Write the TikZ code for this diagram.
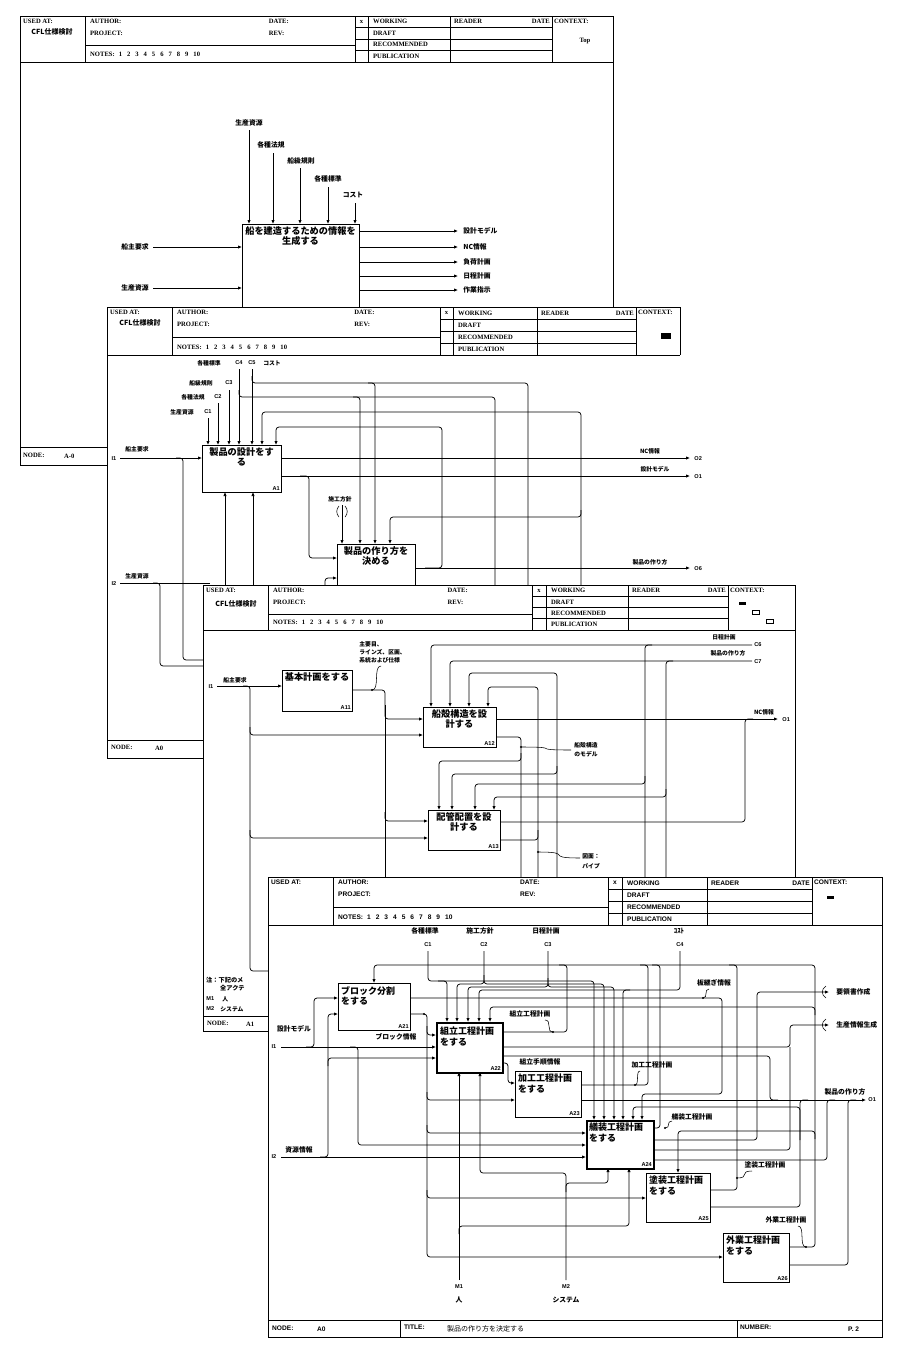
\documentclass[tikz,border=0pt]{standalone}
\usepackage{fontspec}
\setmainfont{Liberation Serif}
\newfontfamily\jp{Noto Sans CJK JP}
\newfontfamily\hsans{Liberation Sans}
\newfontfamily\hserif{Liberation Serif}
\usetikzlibrary{arrows.meta}
\newcommand{\hdrfont}{\hserif\bfseries\fontsize{6.6}{7}\selectfont}
\newcommand{\notestext}{NOTES:\hspace{4pt}1\hspace{5pt}2\hspace{5pt}3\hspace{5pt}4\hspace{5pt}5\hspace{5pt}6\hspace{5pt}7\hspace{5pt}8\hspace{5pt}9\hspace{5pt}10}
\tikzset{
  edge/.style={line width=0.9pt},
  hl/.style={line width=0.55pt},
  ln/.style={line width=0.75pt, rounded corners=3pt},
  ar/.style={ln, -{Latex[length=4pt,width=3.4pt]}},
  fbox/.style={draw, line width=0.9pt, fill=white, inner sep=0pt, anchor=north west},
  tbox/.style={draw, line width=2pt, fill=white, inner sep=0pt, anchor=north west},
  hd/.style={font=\hdrfont, anchor=west, inner sep=0pt},
  lab/.style={font=\jp\bfseries\fontsize{5.8}{6.4}\selectfont, inner sep=0.2pt},
  labw/.style={lab, anchor=west},
  lab7/.style={font=\jp\bfseries\fontsize{6.8}{7.4}\selectfont, inner sep=0.2pt},
  lab7w/.style={lab7, anchor=west},
  cl/.style={font=\hsans\bfseries\fontsize{5.6}{6}\selectfont, inner sep=0.2pt},
  ttl/.style={font=\jp\bfseries\fontsize{9.2}{10.2}\selectfont, inner sep=0pt, align=center, anchor=north},
  ttl4/.style={font=\jp\bfseries\fontsize{9}{10.2}\selectfont, inner sep=0pt, align=left, anchor=north west},
  bid/.style={font=\hsans\bfseries\fontsize{5.6}{6}\selectfont, inner sep=0pt, anchor=south east},
}
\newcommand{\IdefHead}[9]{%
  \draw[hl] (#1,#2) -- (#8,#2);
  \draw[hl] (#1,{#2+#9}) -- (#8,{#2+#9});
  \foreach \xx in {#3,#4,#5,#6,#7,#8} {\draw[hl] (\xx,#2) -- (\xx,{#2+#9});}
  \foreach \k in {1,2,3} {\draw[hl] (#4,{#2+\k*#9/4}) -- (#7,{#2+\k*#9/4});}
  \draw[hl] (#3,{#2+0.64*#9}) -- (#4,{#2+0.64*#9});
  \node[hd] at ({#1+3},{#2+5.5}) {USED AT:};
  \node[hd] at ({#3+5},{#2+5.5}) {AUTHOR:};
  \node[hd] at ({#3+5},{#2+17}) {PROJECT:};
  \node[hd] at ({#3+5},{#2+#9-8}) {\notestext};
  \node[hd] at ({#3+0.68*(#4-#3)},{#2+5.5}) {DATE:};
  \node[hd] at ({#3+0.68*(#4-#3)},{#2+17}) {REV:};
  \node[hd,anchor=center] at ({(#4+#5)/2},{#2+#9/8}) {x};
  \node[hd] at ({#5+5},{#2+#9/8}) {WORKING};
  \node[hd] at ({#5+5},{#2+3*#9/8}) {DRAFT};
  \node[hd] at ({#5+5},{#2+5*#9/8}) {RECOMMENDED};
  \node[hd] at ({#5+5},{#2+7*#9/8}) {PUBLICATION};
  \node[hd] at ({#6+4},{#2+#9/8}) {READER};
  \node[hd,anchor=east] at ({#7-2},{#2+#9/8}) {DATE};
  \node[hd] at ({#7+2},{#2+5.5}) {CONTEXT:};
}
\newcommand{\squig}[4]{\draw[hl] (#1,#2) .. controls ({#1+(#3-#1)*0.9},{#2}) and ({#1+(#3-#1)*0.1},{#4}) .. (#3,#4); \fill (#3,#4) circle[radius=1.1];}
\begin{document}
\begin{tikzpicture}[x=1pt,y=-1pt]
\useasboundingbox (0,0) rectangle (900,1347);
\fill[white] (0,0) rectangle (900,1347);

%================ SHEET 1 =================
\fill[white] (20,16) rectangle (613,465);
\draw[edge] (20,465) -- (20,16) -- (613,16) -- (613,465);
\IdefHead{20}{16}{85}{355}{368}{450}{552}{613}{46}
\node[font=\jp\bfseries\fontsize{7}{7.5}\selectfont] (s1used) at (52,32) {CFL仕様検討};
\node[hd,anchor=center] (s1ctx) at (585,41) {Top};
\draw[hl] (20,447) -- (107,447);
\draw[edge] (20,465) -- (107,465);
\node[hd] (s1node) at (23,455) {NODE:};
\node[hd] (s1nodev) at (64,456) {A-0};

\node[fbox, minimum width=117pt, minimum height=90pt] (s1box) at (242,224) {};
\node[ttl] (s1ttl) at (300.5,226) {船を建造するための情報を\\生成する};
\node[lab7] (s1c1) at (249,123) {生産資源};
\node[lab7] (s1c2) at (271,145) {各種法規};
\node[lab7] (s1c3) at (301,161) {船級規則};
\node[lab7] (s1c4) at (328,179) {各種標準};
\node[lab7] (s1c5) at (353,195) {コスト};
\draw[ar] (249,130) -- (249,224);
\draw[ar] (273,153) -- (273,224);
\draw[ar] (300,168) -- (300,224);
\draw[ar] (328,187) -- (328,224);
\draw[ar] (355,203) -- (355,224);
\node[lab7] (s1i1) at (135,247) {船主要求};
\node[lab7] (s1i2) at (135,288) {生産資源};
\draw[ar] (153,247) -- (242,247);
\draw[ar] (153,288) -- (242,288);
\foreach \yy/\tt in {231/設計モデル,247/NC情報,262/負荷計画,276/日程計画,290/作業指示}{
  \draw[ar] (359,\yy) -- (458,\yy);
  \node[lab7w] at (463,\yy) {\tt};
}

%================ SHEET 2 =================
\fill[white] (107,307) rectangle (705,760);
\draw[edge] (107,307) -- (107,758) -- (203,758);
\IdefHead{107}{307}{172}{440}{453}{537}{636}{680}{48}
\node[font=\jp\bfseries\fontsize{7}{7.5}\selectfont] (s2used) at (140,323) {CFL仕様検討};
\fill (661,333) rectangle (671,339);
\draw[hl] (107,740) -- (203,740);
\node[hd] (s2node) at (111,747) {NODE:};
\node[hd] (s2nodev) at (155,748) {A0};

\node[fbox, minimum width=79pt, minimum height=47pt] (a1) at (202,445) {};
\node[ttl] (a1t) at (241.5,447) {製品の設計をす\\る};
\node[bid] (a1id) at ([xshift=-2pt,yshift=2pt]a1.south east) {A1};
\node[fbox, minimum width=78pt, minimum height=60pt] (a2) at (337,544) {};
\node[ttl] (a2t) at (376,546) {製品の作り方を\\決める};

\node[lab] (s2c4l) at (209,363) {各種標準};
\node[cl] (s2c4) at (239,363) {C4};
\node[cl] (s2c5) at (252,363) {C5};
\node[lab] (s2c5l) at (272,363) {コスト};
\node[lab] (s2c3l) at (201,383) {船級規則};
\node[cl] (s2c3) at (229,383) {C3};
\node[lab] (s2c2l) at (193,397) {各種法規};
\node[cl] (s2c2) at (218,397) {C2};
\node[lab] (s2c1l) at (182,412) {生産資源};
\node[cl] (s2c1) at (208,412) {C1};
\draw[ar] (208,418) -- (208,445);
\draw[ar] (218,403) -- (218,445);
\draw[ar] (229,390) -- (229,445);
\draw[ar] (239,369) -- (239,445);
\draw[ar] (252,369) -- (252,445);
\draw[ln] (252,376) |- (528,383) -- (528,598);
\draw[ar] (368,383) -| (375,544);
\draw[ln] (239,390) |- (495,397) -- (495,598);
\draw[ar] (353,397) -| (360,544);
\draw[ar] (581,598) |- (262,412) -- (262,445);
\draw[ar] (581,510) |- (390,517) -- (390,544);
\draw[ar] (281,458) -- (690,458);
\draw[ar] (281,476) -- (690,476);
\draw[ar] (300,476) -| (309,558) -- (337,558);
\draw[ar] (415,568) -- (690,568);
\draw[ar] (425,568) -| (442,427) -| (276,445);
\node[lab] (s2sk) at (340,499) {施工方針};
\draw[ar] (342,505) -- (342,544);
\draw[hl] (339,506) .. controls (336,509) and (336,514) .. (339,517);
\draw[hl] (345,506) .. controls (348,509) and (348,514) .. (345,517);
\node[lab] (s2o2l) at (650,451) {NC情報};
\node[cl,anchor=west] (s2o2) at (694,459) {O2};
\node[lab] (s2o1l) at (655,469) {設計モデル};
\node[cl,anchor=west] (s2o1) at (694,477) {O1};
\node[lab] (s2o6l) at (650,562) {製品の作り方};
\node[cl,anchor=west] (s2o6) at (694,569) {O6};
\node[cl] (s2i1) at (114,459) {I1};
\node[lab] (s2i1l) at (137,449) {船主要求};
\draw[ar] (120,458) -- (202,458);
\draw[ln] (176,458) -| (183,660) -- (210,660);
\node[cl] (s2i2) at (114,584) {I2};
\node[lab] (s2i2l) at (137,576) {生産資源};
\draw[ln] (120,583) -- (210,583);
\draw[ln] (153,583) -| (160,666) -- (210,666);
\draw[ar] (225,600) -- (225,492);
\draw[ar] (253,600) -- (253,492);
\draw[ar] (325,598) |- (337,578);

%================ SHEET 3 =================
\fill[white] (203,585) rectangle (795,1031);
\draw[edge] (203,585) -- (203,1031) -- (268,1031);
\draw[edge] (795,585) -- (795,877);
\IdefHead{203}{585}{268}{532}{546}{628}{728}{795}{45}
\node[font=\jp\bfseries\fontsize{7}{7.5}\selectfont] (s3used) at (236,604) {CFL仕様検討};
\fill (739,602) rectangle (746,605);
\draw[hl] (752,610) rectangle (759,614);
\draw[hl] (766,619) rectangle (773,623);
\node[font=\jp\bfseries\fontsize{6.2}{6.6}\selectfont, anchor=west, inner sep=0pt] (s3n1) at (206,980) {注：下記のメ};
\node[font=\jp\bfseries\fontsize{6.2}{6.6}\selectfont, anchor=west, inner sep=0pt] (s3n2) at (220,988) {全アクテ};
\node[cl,anchor=west] (s3m1) at (206,999) {M1};
\node[lab,anchor=west] (s3m1l) at (222,999) {人};
\node[cl,anchor=west] (s3m2) at (206,1009) {M2};
\node[lab,anchor=west] (s3m2l) at (220,1009) {システム};
\draw[hl] (203,1016) -- (268,1016);
\node[hd] (s3node) at (207,1023) {NODE:};
\node[hd] (s3nodev) at (246,1024) {A1};

\node[fbox, minimum width=70pt, minimum height=41pt] (a11) at (282,670) {};
\node[ttl] (a11t) at (317,672) {基本計画をする};
\node[bid] (a11id) at ([xshift=-2pt,yshift=2pt]a11.south east) {A11};
\node[fbox, minimum width=73pt, minimum height=40pt] (a12) at (423,707) {};
\node[ttl] (a12t) at (459.5,709) {船殻構造を設\\計する};
\node[bid] (a12id) at ([xshift=-2pt,yshift=2pt]a12.south east) {A12};
\node[fbox, minimum width=72pt, minimum height=40pt] (a13) at (428,810) {};
\node[ttl] (a13t) at (464,812) {配管配置を設\\計する};
\node[bid] (a13id) at ([xshift=-2pt,yshift=2pt]a13.south east) {A13};

\node[cl] (s3i1) at (211,687) {I1};
\node[lab] (s3i1l) at (235,680) {船主要求};
\draw[ar] (217,686) -- (282,686);
\draw[ln] (243,686) -| (250,971) -- (275,971);
\draw[ar] (250,727) |- (423,735);
\draw[ar] (250,830) |- (428,838);
\draw[ar] (352,690) -| (385,719) -- (423,719);
\draw[ln] (385,705) -- (385,880);
\draw[ar] (385,812) |- (428,821);
\node[labw] (s3d1) at (359,644) {主要目、};
\node[labw] (s3d2) at (359,652) {ラインズ、区画、};
\node[labw] (s3d3) at (359,660) {系統および仕様};
\squig{381}{666}{372}{690}
\node[lab] (s3c6l) at (724,637) {日程計画};
\node[cl,anchor=west] (s3c6) at (754,645) {C6};
\node[lab] (s3c7l) at (728,653) {製品の作り方};
\node[cl,anchor=west] (s3c7) at (754,662) {C7};
\draw[ar] (752,645) -| (431,707);
\draw[ln] (652,645) -| (645,880);
\draw[ar] (645,776) |- (475,784) -- (475,810);
\draw[ar] (752,661) -| (450,707);
\draw[ln] (673,661) -| (666,880);
\draw[ar] (666,789) |- (494,797) -- (494,810);
\draw[ar] (557,880) |- (469,673) -- (469,707);
\draw[ar] (557,766) |- (452,774) -- (452,810);
\draw[ar] (538,880) |- (488,687) -- (488,707);
\draw[ln] (500,840) -| (538,830);
\draw[ln] (496,737) -| (521,880);
\draw[ar] (521,753) |- (439,761) -- (439,810);
\draw[ar] (496,719) -- (778,719);
\draw[ln] (500,822) -| (745,719) -- (753,719);
\node[lab] (s3o1l) at (764,712) {NC情報};
\node[cl,anchor=west] (s3o1) at (782,720) {O1};
\node[labw] (s3m1t) at (574,745) {船殻構造};
\node[labw] (s3m2t) at (574,754) {のモデル};
\squig{571}{750}{521}{747}
\node[labw] (s3z1) at (582,856) {図面：};
\node[labw] (s3z2) at (582,866) {パイプ};
\squig{580}{858}{538}{852}

%================ SHEET 4 =================
\renewcommand{\hdrfont}{\hsans\bfseries\fontsize{6.6}{7}\selectfont}
\fill[white] (268,877) rectangle (882,1337);
\draw[edge] (268,877) rectangle (882,1337);
\IdefHead{268}{877}{333}{608}{622}{707}{812}{882}{48}
\fill (827,896) rectangle (834,898.5);
\draw[edge] (268,1320) -- (882,1320);
\draw[hl] (400,1320) -- (400,1337);
\draw[hl] (737,1320) -- (737,1337);
\node[hd] (s4node) at (272,1328) {NODE:};
\node[hd] (s4nodev) at (317,1329) {A0};
\node[hd] (s4title) at (404,1327) {TITLE:};
\node[font=\jp\fontsize{7}{7.5}\selectfont, anchor=west, inner sep=0pt] (s4titlev) at (447,1329) {製品の作り方を決定する};
\node[hd] (s4num) at (740,1327) {NUMBER:};
\node[hd] (s4numv) at (848,1329) {P. 2};

\node[fbox, minimum width=72pt, minimum height=47pt] (a21) at (338,983) {};
\node[tbox, minimum width=66pt, minimum height=50pt] (a22) at (436,1022) {};
\node[fbox, minimum width=66pt, minimum height=46pt] (a23) at (515,1071) {};
\node[tbox, minimum width=67pt, minimum height=48pt] (a24) at (586,1120) {};
\node[fbox, minimum width=64pt, minimum height=49pt] (a25) at (646,1173) {};
\node[fbox, minimum width=66pt, minimum height=49pt] (a26) at (723,1233) {};
\node[ttl4] (a21t) at ([xshift=3pt,yshift=-3pt]a21.north west) {ブロック分割\\をする};
\node[ttl4] (a22t) at ([xshift=4pt,yshift=-5pt]a22.north west) {組立工程計画\\をする};
\node[ttl4] (a23t) at ([xshift=3pt,yshift=-3pt]a23.north west) {加工工程計画\\をする};
\node[ttl4] (a24t) at ([xshift=3pt,yshift=-3pt]a24.north west) {艤装工程計画\\をする};
\node[ttl4] (a25t) at ([xshift=3pt,yshift=-3pt]a25.north west) {塗装工程計画\\をする};
\node[ttl4] (a26t) at ([xshift=3pt,yshift=-3pt]a26.north west) {外業工程計画\\をする};
\node[bid] (a21id) at ([xshift=-2pt,yshift=2pt]a21.south east) {A21};
\node[bid] (a22id) at ([xshift=-3pt,yshift=3pt]a22.south east) {A22};
\node[bid] (a23id) at ([xshift=-2pt,yshift=2pt]a23.south east) {A23};
\node[bid] (a24id) at ([xshift=-3pt,yshift=3pt]a24.south east) {A24};
\node[bid] (a25id) at ([xshift=-2pt,yshift=2pt]a25.south east) {A25};
\node[bid] (a26id) at ([xshift=-2pt,yshift=2pt]a26.south east) {A26};

% controls
\node[lab7] (c1l) at (425,931) {各種標準};
\node[cl] (c1) at (428,945) {C1};
\node[lab7] (c2l) at (480,931) {施工方針};
\node[cl] (c2) at (484,945) {C2};
\node[lab7] (c3l) at (546,931) {日程計画};
\node[cl] (c3) at (548,945) {C3};
\node[lab7] (c4l) at (679,931) {ｺｽﾄ};
\node[cl] (c4) at (680,945) {C4};
\draw[ar] (428,951) |- (594,981) -- (594,1120);
\draw[ar] (438,981) -| (447,1022);
\draw[ar] (484,951) |- (457,984) -- (457,1022);
\draw[ar] (484,975) |- (604,984) -- (604,1120);
\draw[ar] (548,951) |- (468,987) -- (468,1022);
\draw[ar] (548,978) |- (614,987) -- (614,1120);
\draw[ar] (680,951) |- (479,990) -- (479,1022);
\draw[ar] (630,990) -| (623,1120);

% feedback bus to A21 control
\draw[ar] (789,1247) -| (815,965) -| (374,983);
\draw[ln] (502,1032) -| (567,965) -- (559,965);
\draw[ln] (581,1085) -| (648,965) -- (640,965);
\draw[ln] (653,1128) -| (660,965) -- (652,965);
\draw[ln] (710,1190) -| (737,965) -- (729,965);
\draw[ar] (815,1015) |- (490,1007) -- (490,1022);
\draw[ar] (815,1139) |- (678,1131) -- (678,1173);

% A21 outputs
\draw[ar] (410,998) -| (722,1094) -| (642,1120);
\draw[ar] (410,1014) -| (427,1250) |- (723,1257);
\fill (424,1014) circle[radius=1.1];
\draw[ar] (427,1026) |- (436,1035);
\draw[ar] (427,1092) |- (515,1100);
\draw[ar] (427,1125) |- (586,1133);
\draw[ar] (427,1190) |- (646,1198);

% A22 outputs
\draw[ar] (502,1047) -| (790,1025) -- (829,1025);
\draw[ln] (502,1056) -| (770,1100) -- (778,1100);
\draw[ar] (502,1063) -| (508,1083) -- (515,1083);
% A23 / O1
\draw[ar] (581,1100) -- (866,1100);
% A24 outputs
\draw[ar] (653,1140) -| (757,992) -- (829,992);
\draw[ln] (653,1150) -| (790,1047);
\draw[ln] (653,1160) -| (827,1100) -- (835,1100);
\draw[ar] (800,1140) |- (633,1107) -- (633,1120);
% A25 / A26 outputs
\draw[ln] (710,1207) -| (800,1100) -- (808,1100);
\draw[ln] (789,1265) -| (848,1100) -- (856,1100);
% tunnels
\draw[hl] (826,986) .. controls (821,989) and (821,995) .. (826,998);
\draw[hl] (826,1019) .. controls (821,1022) and (821,1028) .. (826,1031);
\node[lab7w] (s4out1) at (836,992) {要領書作成};
\node[lab7w] (s4out2) at (836,1025) {生産情報生成};
\node[lab7] (s4o1l) at (845,1092) {製品の作り方};
\node[cl,anchor=west] (s4o1) at (868,1100) {O1};

% inputs
\node[cl] (i1) at (274,1047) {I1};
\node[lab7] (i1l) at (294,1029) {設計モデル};
\draw[ar] (281,1047) -- (436,1047);
\draw[ar] (306,1047) -| (314,998) -- (338,998);
\draw[ar] (350,1047) -| (358,1145) -- (586,1145);
\node[cl] (i2) at (274,1157) {I2};
\node[lab7] (i2l) at (299,1150) {資源情報};
\draw[ar] (281,1157) -- (586,1157);
\draw[ar] (320,1157) -| (328,1014) -- (338,1014);
\draw[ar] (328,1066) |- (436,1058);

% mechanisms
\node[cl] (m1) at (459,1287) {M1};
\node[lab7] (m1l) at (459,1300) {人};
\draw[ar] (459,1280) -- (459,1072);
\draw[ar] (459,1234) |- (629,1226) -- (629,1168);
\node[cl] (m2) at (566,1287) {M2};
\node[lab7] (m2l) at (566,1300) {システム};
\draw[ar] (566,1280) |- (480,1173) -- (480,1072);
\draw[ar] (566,1192) |- (608,1183) -- (608,1168);

% arrow labels
\node[lab7] (l1) at (396,1037) {ブロック情報};
\node[lab7] (l2) at (530,1014) {組立工程計画};
\squig{545}{1020}{553}{1032}
\node[lab7] (l3) at (540,1062) {組立手順情報};
\node[lab7] (l4) at (652,1065) {加工工程計画};
\squig{640}{1071}{635}{1085}
\node[lab7] (l5) at (692,1117) {艤装工程計画};
\squig{672}{1121}{665}{1128}
\node[lab7] (l6) at (765,1165) {塗装工程計画};
\squig{752}{1171}{737}{1178}
\node[lab7] (l7) at (786,1220) {外業工程計画};
\squig{798}{1226}{806}{1247}
\node[lab7] (l8) at (714,983) {板継ぎ情報};
\squig{709}{989}{703}{998}
\end{tikzpicture}
\end{document}
